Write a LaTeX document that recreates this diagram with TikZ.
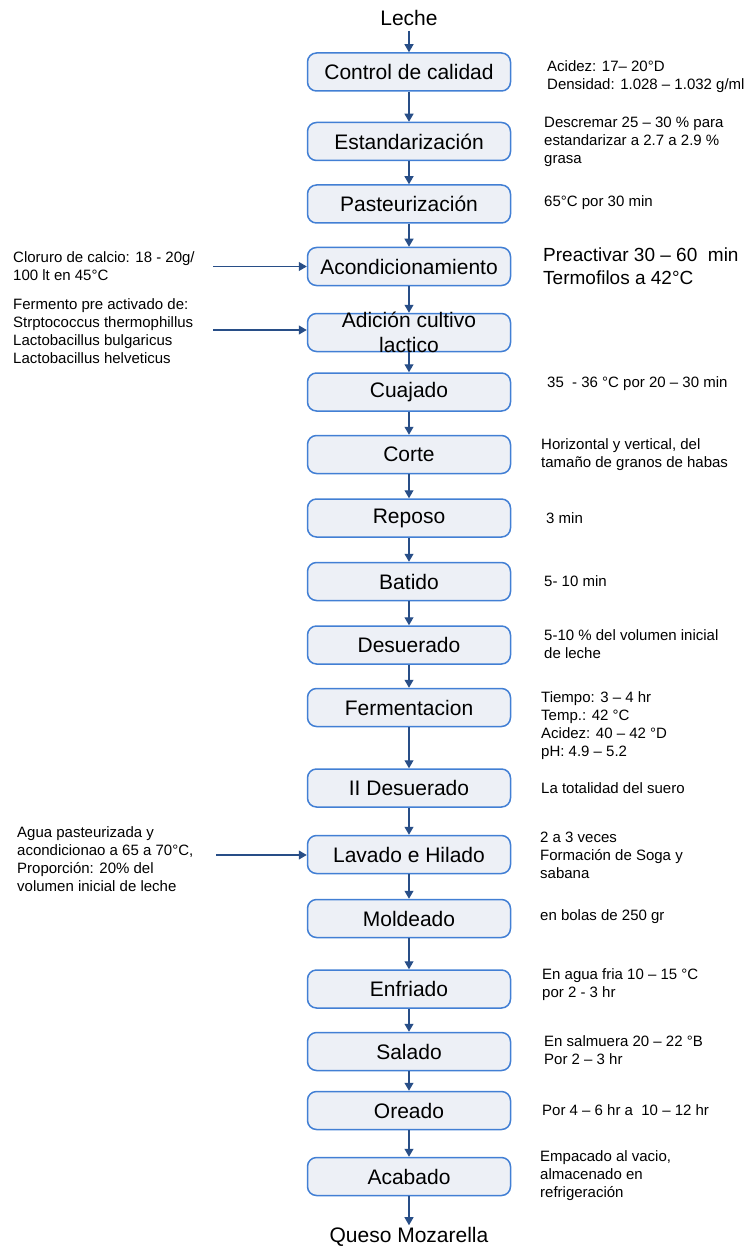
\documentclass[tikz,border=0pt]{standalone}
\usepackage{fontspec}
\setmainfont{Liberation Sans}
\usetikzlibrary{arrows.meta}
\definecolor{boxfill}{RGB}{237,240,246}
\definecolor{boxline}{RGB}{66,127,212}
\definecolor{arrcol}{RGB}{40,78,135}
\begin{document}
\begin{tikzpicture}[x=1pt,y=-1pt,
  stepbox/.style={draw=boxline, fill=boxfill, line width=1.5pt, rounded corners=9pt,
    minimum width=203pt, minimum height=38pt, inner sep=0pt, font=\fontsize{21}{25}\selectfont},
  boxtxt/.style={inner sep=0pt, align=center, font=\fontsize{21}{25}\selectfont},
  arr/.style={draw=arrcol, line width=1.1pt, -{Triangle[length=8pt,width=9pt]}},
  note/.style={anchor=west, align=left, inner sep=0pt, font=\fontsize{15}{18}\selectfont},
  bignote/.style={anchor=west, align=left, inner sep=0pt, font=\fontsize{19}{23}\selectfont},
  endtxt/.style={font=\fontsize{21}{25}\selectfont, inner sep=2pt}]
\useasboundingbox (0,0) rectangle (749,1249);

\node[endtxt] (leche) at (409,18) {Leche};
\node[endtxt] (queso) at (409,1237) {Queso Mozarella};

\node[stepbox] (b1) at (409,72) {Control de calidad};
\node[stepbox] (b2) at (409,141.5) {Estandarización};
\node[stepbox] (b3) at (409,204) {Pasteurización};
\node[stepbox] (b4) at (409,266.5) {Acondicionamiento};
\node[stepbox] (b5) at (409,332.5) {};
\node[boxtxt] (b5t) at (b5.center) {Adición cultivo\\lactico};
\node[stepbox] (b6) at (409,392) {Cuajado};
\node[stepbox] (b7) at (409,454.5) {Corte};
\node[stepbox] (b8) at (409,518) {Reposo};
\node[stepbox] (b9) at (409,581.5) {Batido};
\node[stepbox] (b10) at (409,645) {Desuerado};
\node[stepbox] (b11) at (409,707.5) {Fermentacion};
\node[stepbox] (b12) at (409,788) {II Desuerado};
\node[stepbox] (b13) at (409,854.5) {Lavado e Hilado};
\node[stepbox] (b14) at (409,918.5) {Moldeado};
\node[stepbox] (b15) at (409,989) {Enfriado};
\node[stepbox] (b16) at (409,1051.5) {Salado};
\node[stepbox] (b17) at (409,1110.5) {Oreado};
\node[stepbox] (b18) at (409,1176.5) {Acabado};

\draw[arr, shorten <=3pt] (leche) -- (b1);
\foreach \a/\b in {b1/b2,b2/b3,b3/b4,b4/b5,b5/b6,b6/b7,b7/b8,b8/b9,b9/b10,b10/b11,b11/b12,b12/b13,b13/b14,b14/b15,b15/b16,b16/b17,b17/b18}
  \draw[arr] (\a) -- (\b);
\draw[arr] (b18) -- (queso);

% right notes
\node[note] (n1) at (547,77) {Acidez: 17– 20°D\\Densidad: 1.028 – 1.032 g/ml};
\node[note] (n2) at (544,141.5) {Descremar 25 – 30 \% para\\estandarizar a 2.7 a 2.9 \%\\grasa};
\node[note] (n3) at (544,203) {65°C por 30 min};
\node[bignote] (n4) at (543,266.5) {Preactivar 30 – 60~~min\\Termofilos a 42°C};
\node[note] (n6) at (547,384) {35~~- 36 °C por 20 – 30 min};
\node[note] (n7) at (541,454.5) {Horizontal y vertical, del\\tamaño de granos de habas};
\node[note] (n8) at (546,518) {3 min};
\node[note] (n9) at (544,581) {5- 10 min};
\node[note] (n10) at (544,644.5) {5-10 \% del volumen inicial\\de leche};
\node[note] (n11) at (541,725.5) {Tiempo: 3 – 4 hr\\Temp.: 42 °C\\Acidez: 40 – 42 °D\\pH: 4.9 – 5.2};
\node[note] (n12) at (541,788) {La totalidad del suero};
\node[note] (n13) at (540,855) {2 a 3 veces\\Formación de Soga y\\sabana};
\node[note] (n14) at (540,917) {en bolas de 250 gr};
\node[note] (n15) at (542,985) {En agua fria 10 – 15 °C\\por 2 - 3 hr};
\node[note] (n16) at (544,1050.5) {En salmuera 20 – 22 °B\\Por 2 – 3 hr};
\node[note] (n17) at (542,1110) {Por 4 – 6 hr a~~10 – 12 hr};
\node[note] (n18) at (540,1175.5) {Empacado al vacio,\\almacenado en\\refrigeración};

% left inputs
\node[note] (l1) at (13,266.5) {Cloruro de calcio: 18 - 20g/\\100 lt en 45°C};
\node[note] (l2) at (13,331) {Fermento pre activado de:\\Strptococcus thermophillus\\Lactobacillus bulgaricus\\Lactobacillus helveticus};
\node[note] (l3) at (17,859) {Agua pasteurizada y\\acondicionao a 65 a 70°C,\\Proporción: 20\% del\\volumen inicial de leche};

\coordinate (c1) at (213,266.5);
\coordinate (c2) at (213,330);
\coordinate (c3) at (216,855);
\draw[arr] (c1) -- (c1 -| b4.west);
\draw[arr] (c2) -- (c2 -| b5.west);
\draw[arr] (c3) -- (c3 -| b13.west);
\end{tikzpicture}
\end{document}
